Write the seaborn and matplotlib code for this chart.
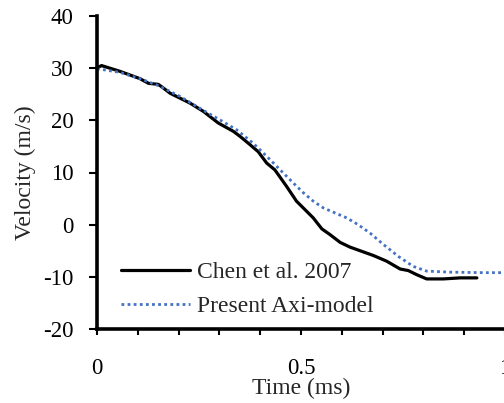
import numpy as np
import pandas as pd
import matplotlib
matplotlib.use("Agg")
import matplotlib.pyplot as plt
import seaborn as sns

chen_t = [0.0, 0.011, 0.056, 0.105, 0.126, 0.150, 0.161, 0.179, 0.228, 0.261, 0.297, 0.334, 0.351,
          0.371, 0.395, 0.416, 0.436, 0.465, 0.489, 0.530, 0.551, 0.571, 0.596, 0.620, 0.677,
          0.710, 0.743, 0.763, 0.784, 0.808, 0.849, 0.890, 0.931]
chen_v = [30.0, 30.5, 29.4, 28.0, 27.1, 26.9, 26.3, 25.2, 23.3, 21.7, 19.5, 17.9, 16.9,
          15.6, 14.0, 11.8, 10.5, 7.3, 4.5, 1.3, -0.8, -1.9, -3.4, -4.3, -5.9,
          -7.0, -8.5, -8.8, -9.6, -10.4, -10.4, -10.2, -10.2]

axi_t = [0.0, 0.056, 0.105, 0.152, 0.203, 0.252, 0.301, 0.342, 0.383, 0.416, 0.449, 0.481,
         0.506, 0.530, 0.555, 0.579, 0.612, 0.640, 0.669, 0.702, 0.739, 0.775, 0.808, 0.865,
         0.947, 1.0]
axi_v = [29.9, 29.2, 28.0, 26.6, 24.6, 22.3, 20.1, 18.2, 15.6, 13.1, 10.5, 8.0,
         6.1, 4.5, 3.2, 2.4, 1.3, 0.0, -1.6, -3.8, -6.1, -8.0, -8.9, -9.1,
         -9.2, -9.2]

x_ticks = [0, 0.1, 0.2, 0.3, 0.4, 0.5, 0.6, 0.7, 0.8, 0.9, 1.0]
x_labels = ['0', '', '', '', '', '0.5', '', '', '', '', '1']
y_ticks = [-20, -10, 0, 10, 20, 30, 40]

sns.set_style("ticks")
plt.rcParams['font.family'] = ['Liberation Serif', 'DejaVu Serif']

fig = plt.figure(figsize=(5.04, 4.03), dpi=100)
ax = fig.add_axes([97/504, (403-329)/403, 408/504, 313/403])

df_chen = pd.DataFrame({'t': chen_t, 'v': chen_v})
df_axi = pd.DataFrame({'t': axi_t, 'v': axi_v})
sns.lineplot(data=df_chen, x='t', y='v', ax=ax, color='black', lw=2.3,
             label='Chen et al. 2007', clip_on=False)
sns.lineplot(data=df_axi, x='t', y='v', ax=ax, color='#4472C4', lw=2.0,
             linestyle=(0, (1, 1.2)), label='Present Axi-model', clip_on=False)

ax.set_xlim(0, 1)
ax.set_ylim(-20, 40)
ax.set_xticks(x_ticks)
ax.set_xticklabels(x_labels)
ax.set_yticks(y_ticks)
ax.set_yticklabels([str(v) for v in y_ticks])
ax.tick_params(axis='x', direction='out', length=4, width=1.5, pad=17, labelsize=16.5, colors='black')
ax.tick_params(axis='y', direction='out', length=6, width=1.5, pad=11, labelsize=16.5, colors='black')
for s in ['top', 'right']:
    ax.spines[s].set_visible(False)
for s in ['left', 'bottom']:
    ax.spines[s].set_linewidth(2.6)
    ax.spines[s].set_color('black')

ax.set_xlabel('Time (ms)', fontsize=17, labelpad=-1)
ax.set_ylabel('Velocity (m/s)', fontsize=17, labelpad=5)

leg = ax.legend(loc='lower left', bbox_to_anchor=(0.036, 0.008), frameon=False, fontsize=17,
                handlelength=2.9, handletextpad=0.3, labelspacing=0.52, borderaxespad=0)

fig.savefig('out.png', dpi=100)
